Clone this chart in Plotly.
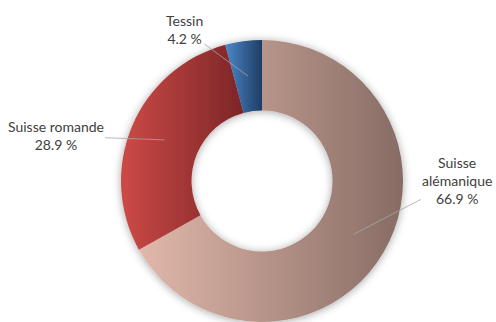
import json
import math
import plotly.graph_objects as go

# Regional shares (percent)
regions = ["Suisse alémanique", "Suisse romande", "Tessin"]
label_text = ["Suisse<br>alémanique", "Suisse romande", "Tessin"]
shares = [66.9, 28.9, 4.2]

# Left -> right gradient colours for each slice
grad_light = ["#e2b8ab", "#cc4a46", "#4c88ca"]
grad_dark = ["#876c64", "#7c2527", "#1e3d63"]
mid_colors = ["#b39288", "#a4373a", "#3563a0"]

W, H = 496, 322
DOM_X = [0.244, 0.8125]
DOM_Y = [0.0, 0.876]
HOLE = 0.5

# label offsets (px) from the leader-line anchor to the text centre
label_dx = [104, -109, -64]
label_dy = [-54, -4, -47]

fig = go.Figure(go.Pie(
    labels=regions,
    values=shares,
    hole=HOLE,
    sort=False,
    direction="clockwise",
    rotation=0,
    textinfo="none",
    hoverinfo="skip",
    marker=dict(colors=mid_colors, line=dict(width=0)),
    domain=dict(x=DOM_X, y=DOM_Y),
    showlegend=False,
))

# anchor each leader line in the middle of the ring at the slice's mid-angle
cx = (DOM_X[0] + DOM_X[1]) / 2 * W
cy = (DOM_Y[0] + DOM_Y[1]) / 2 * H
r_out = min((DOM_X[1] - DOM_X[0]) * W, (DOM_Y[1] - DOM_Y[0]) * H) / 2
r_mid = r_out * (1 + HOLE) / 2
total = sum(shares)
start = 0.0
for i, v in enumerate(shares):
    mid = (start + v / 2) / total * 2 * math.pi
    start += v
    px = cx + r_mid * math.sin(mid)
    py = cy + r_mid * math.cos(mid)
    fig.add_annotation(
        x=px / W, y=py / H, xref="paper", yref="paper",
        text=f"{label_text[i]}<br>{v:.1f} %",
        showarrow=True, arrowhead=0, arrowwidth=0.8, arrowcolor="#a6a6a6",
        ax=label_dx[i], ay=label_dy[i], standoff=0,
        font=dict(family="Lato", size=14, color="#404040"),
        align="center",
    )

fig.update_layout(
    width=W, height=H,
    margin=dict(l=0, r=0, t=0, b=0),
    paper_bgcolor="white",
    plot_bgcolor="white",
)

post = """
var gd = document.getElementById('{plot_id}');
var ns = 'http://www.w3.org/2000/svg';
var svg = gd.querySelector('svg.main-svg');
var defs = svg.querySelector('defs');
if (!defs) { defs = document.createElementNS(ns, 'defs'); svg.insertBefore(defs, svg.firstChild); }
var light = LIGHT, dark = DARK;
for (var i = 0; i < light.length; i++) {
  var g = document.createElementNS(ns, 'linearGradient');
  g.setAttribute('id', 'slicegrad' + i);
  g.setAttribute('x1', '0'); g.setAttribute('y1', '0');
  g.setAttribute('x2', '1'); g.setAttribute('y2', '0');
  var s1 = document.createElementNS(ns, 'stop');
  s1.setAttribute('offset', '0'); s1.setAttribute('stop-color', light[i]);
  var s2 = document.createElementNS(ns, 'stop');
  s2.setAttribute('offset', '1'); s2.setAttribute('stop-color', dark[i]);
  g.appendChild(s1); g.appendChild(s2); defs.appendChild(g);
}
var f = document.createElementNS(ns, 'filter');
f.setAttribute('id', 'ringshadow');
f.setAttribute('x', '-20%'); f.setAttribute('y', '-20%');
f.setAttribute('width', '140%'); f.setAttribute('height', '140%');
var ds = document.createElementNS(ns, 'feDropShadow');
ds.setAttribute('dx', '0'); ds.setAttribute('dy', '1');
ds.setAttribute('stdDeviation', '4');
ds.setAttribute('flood-color', '#000'); ds.setAttribute('flood-opacity', '0.35');
f.appendChild(ds); defs.appendChild(f);
var paths = gd.querySelectorAll('.pielayer path.surface');
paths.forEach(function(p, i) { p.style.fill = 'url(#slicegrad' + i + ')'; });
gd.querySelectorAll('.pielayer g.trace').forEach(function(t) { t.setAttribute('filter', 'url(#ringshadow)'); });
""".replace("LIGHT", json.dumps(grad_light)).replace("DARK", json.dumps(grad_dark))

fig.write_html("out.html", post_script=post)
